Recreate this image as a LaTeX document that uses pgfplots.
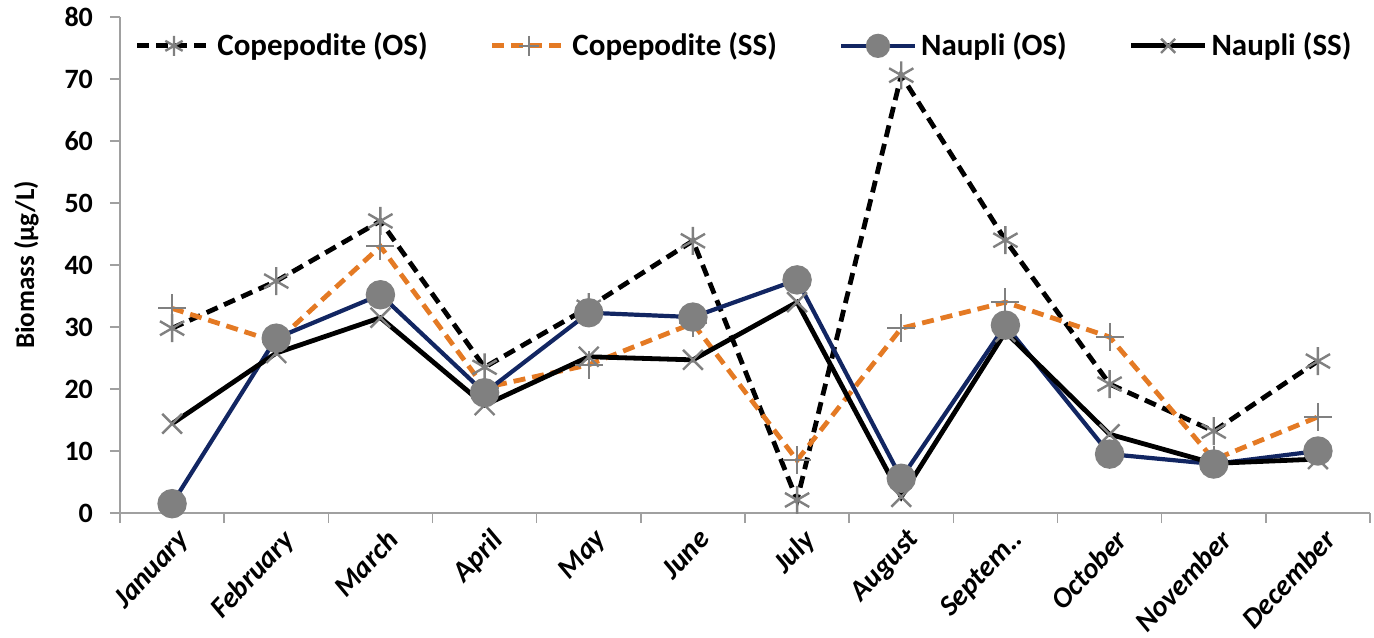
\documentclass[border=0pt]{standalone}
\usepackage{fontspec}
\setmainfont{Carlito}
\usepackage{pgfplots}
\pgfplotsset{compat=1.18}
\definecolor{navy}{RGB}{18,38,98}
\definecolor{orng}{RGB}{228,122,36}
\definecolor{mk}{RGB}{128,128,128}
\definecolor{ax}{RGB}{160,160,160}

\begin{document}
\begin{tikzpicture}[font=\bfseries]
	\begin{axis}[
			name=ax,
			width=625pt, height=248pt, scale only axis,
			xmin=-0.5, xmax=11.5, ymin=0, ymax=80,
			axis x line=bottom, axis y line=left,
			axis line style={ax, line width=0.8pt, -},
			xtick={0,...,11},
			xticklabels={January,February,March,April,May,June,July,August,Septem..,October,November,December},
			x tick label style={rotate=47, anchor=north east, font=\fontsize{14.5}{17}\selectfont\bfseries\itshape, inner sep=1pt, yshift=-2pt, xshift=1pt},
			major x tick style={draw=none},
			minor xtick={-0.5,0.5,...,11.5},
			minor x tick style={ax, line width=0.8pt},
			minor tick length=5pt,
			ytick={0,10,...,80},
			y tick label style={font=\fontsize{14}{16}\selectfont\bfseries, xshift=-5pt},
			/pgf/number format/assume math mode=true,
			major y tick style={ax, line width=0.8pt},
			major tick length=5pt,
			tick align=outside,
			ylabel={Biomass (µg/L)},
			ylabel style={font=\fontsize{13.5}{15}\selectfont\bfseries, yshift=6pt},
			legend style={at={(0.5,0.985)}, anchor=north, draw=none, fill=none,
				legend columns=4, font=\fontsize{15.5}{17}\selectfont\bfseries,
				/tikz/every even column/.append style={column sep=29pt}},
			legend image code/.code={
				\draw[mark repeat=2,mark phase=2,mark size=5pt] plot coordinates {(0cm,0cm) (0.65cm,0cm) (1.3cm,0cm)};},
			mark size=7pt,
			clip=false,
		]
		\addplot[black, line width=2.4pt, dash pattern=on 6pt off 3.5pt, mark=asterisk, mark options={mk, solid, line width=1.2pt}]
			coordinates {(0,29.8) (1,37.4) (2,47.1) (3,23.5) (4,33.2) (5,43.9) (6,2.1) (7,70.6) (8,44.0) (9,20.8) (10,13.2) (11,24.5)};
		\addlegendentry{Copepodite (OS)}
		\addplot[orng, line width=2.4pt, dash pattern=on 6pt off 3.5pt, mark=+, mark options={mk, solid, line width=1.0pt}]
			coordinates {(0,33.0) (1,27.6) (2,43.0) (3,20.2) (4,23.9) (5,30.6) (6,8.5) (7,29.8) (8,34.0) (9,28.4) (10,8.6) (11,15.5)};
		\addlegendentry{Copepodite (SS)}
		\addplot[navy, line width=2.1pt, mark=*, mark size=6.3pt, mark options={mk, solid, draw=mk}]
			coordinates {(0,1.5) (1,28.2) (2,35.2) (3,19.4) (4,32.3) (5,31.6) (6,37.6) (7,5.6) (8,30.3) (9,9.5) (10,7.9) (11,10.0)};
		\addlegendentry{Naupli (OS)}
		\addplot[black, line width=2.4pt, mark=x, mark options={mk, solid, line width=1.2pt}]
			coordinates {(0,14.4) (1,25.8) (2,31.5) (3,17.4) (4,25.2) (5,24.7) (6,34.0) (7,2.6) (8,29.2) (9,12.7) (10,8.0) (11,8.7)};
		\addlegendentry{Naupli (SS)}
	\end{axis}
	\pgfresetboundingbox
	\path ([shift={(-60pt,-62pt)}]ax.south west) rectangle ([shift={(2pt,8.5pt)}]ax.north east);
\end{tikzpicture}
\end{document}
